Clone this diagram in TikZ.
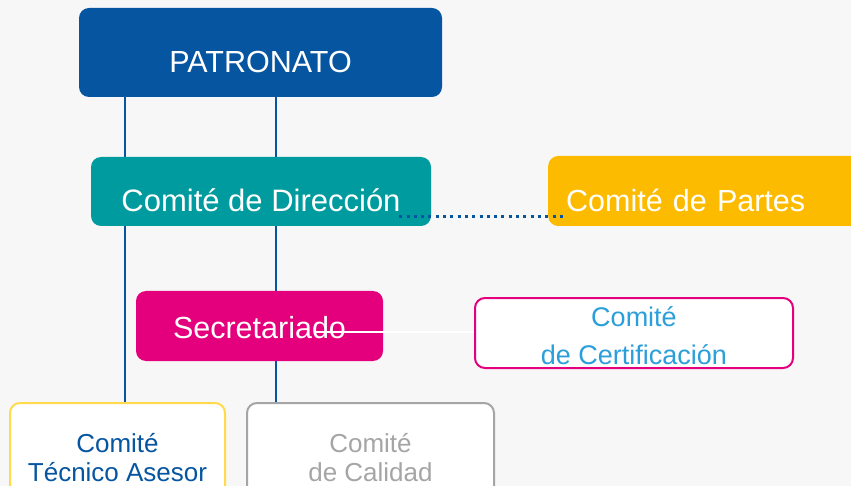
\documentclass[tikz,border=0pt]{standalone}
\usepackage{fontspec}
\setmainfont{Liberation Sans}
\usetikzlibrary{positioning}

\definecolor{azul}{HTML}{0655A1}
\definecolor{turquesa}{HTML}{009B9E}
\definecolor{amarillo}{HTML}{FDBB00}
\definecolor{amarilloclaro}{HTML}{FFDA4D}
\definecolor{magenta}{HTML}{E4007D}
\definecolor{celeste}{HTML}{2B9FD9}
\definecolor{gris}{HTML}{A5A5A5}
\definecolor{fondogris}{HTML}{F7F7F7}

\pgfdeclarelayer{fondo}
\pgfdeclarelayer{lineas}
\pgfsetlayers{fondo,lineas,main}

\begin{document}
\begin{tikzpicture}[
    x=1pt, y=-1pt,
    caja/.style={rectangle, rounded corners=10pt, inner sep=0pt, align=center},
    llena/.style={caja, fill=#1, text=white, font=\fontsize{30.5}{36}\selectfont},
    hueca/.style={caja, draw=#1, line width=2pt, fill=white, font=\fontsize{26}{29}\selectfont},
    alto/.style={text height=#1, text depth=0pt},
    eje/.style={draw=azul, line width=1.8pt},
    punteado/.style={draw=azul, line width=3pt, dash pattern=on 3pt off 4.3pt},
    blanca/.style={draw=white, line width=1.6pt}
  ]
    \useasboundingbox (0,0) rectangle (851,486);
    \begin{pgfonlayer}{fondo}
      \fill[fondogris] (0,0) rectangle (851,486);
    \end{pgfonlayer}
    \clip (0,0) rectangle (851,486);

    % cajas
    \node[llena=azul, minimum width=363pt, minimum height=89pt, alto=41pt] (patronato) at (260.5,52.5) {PATRONATO};
    \node[llena=turquesa, minimum width=340pt, minimum height=69pt, alto=40.4pt,
          font=\fontsize{31}{37}\selectfont] (direccion) at (261,191.5) {Comité de Dirección};
    \node[llena=amarillo, anchor=west, minimum height=70pt, alto=40.4pt,
          text width=300pt, align=left, inner xsep=18pt] (partes) at (548,191) {Comité de Partes};
    \node[llena=magenta, minimum width=247pt, minimum height=70pt, alto=24.6pt] (secretariado) at (259.5,326) {Secretariado};
    \node[hueca=magenta, text=celeste, font=\fontsize{27}{38}\selectfont,
          minimum width=318pt, minimum height=70pt] (certificacion) at (634,333) {\rule{0pt}{26pt}Comité\\de Certificación};
    \node[hueca=amarilloclaro, text=azul, minimum width=215pt, minimum height=110pt] (tecnico) at (117.5,458) {Comité\\Técnico Asesor};
    \node[hueca=gris, text=gris, minimum width=247pt, minimum height=110pt, right=20pt of tecnico] (calidad) {Comité\\de Calidad};

    % ejes verticales
    \coordinate (ejeA) at (125,0);
    \coordinate (ejeB) at (276,0);
    \begin{pgfonlayer}{lineas}
      \draw[eje] (patronato.south -| ejeA) -- (tecnico.north -| ejeA);
      \draw[eje] (patronato.south -| ejeB) -- (calidad.north -| ejeB);
    \end{pgfonlayer}

    % enlaces laterales
    \draw[punteado] ([shift={(-32,-10)}]direccion.south east) -- ([shift={(17,-10)}]partes.south west);
    \draw[blanca] ([shift={(-67,6)}]secretariado.east) -- ([yshift=1pt]certificacion.west);
  \end{tikzpicture}
\end{document}
